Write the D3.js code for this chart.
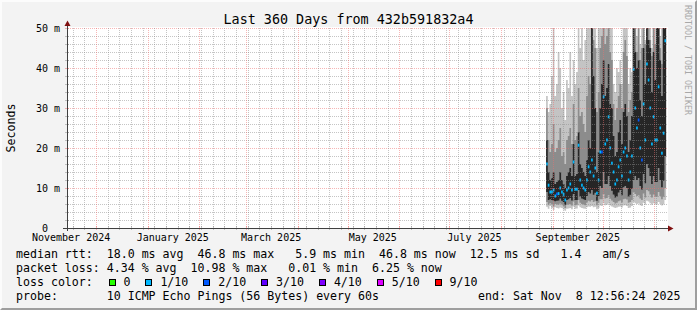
<!DOCTYPE html>
<html lang="en">
<head>
<meta charset="UTF-8">
<title>Smokeping - Last 360 Days</title>
<script src="https://d3js.org/d3.v7.min.js"></script>
<style>
    body { margin: 0; background: #f3f3f3; }
    svg text { font-family: "DejaVu Sans Mono", monospace; fill: #000; white-space: pre; }
</style>
</head>
<body>
<svg id="canvas" width="697" height="310"></svg>
<script>
// one consolidated sample per day, first one on firstDay (UTC)
const firstDay = "2025-08-28T00:00:00Z";
const endStamp = "2025-11-08T12:56:24Z";

// median rtt in ms
const medianRtt = [16, 10.7, 9, 9, 9.5, 8, 8.5, 8.6, 10, 9, 8.4, 7, 9.5, 10, 11, 9.5, 16.5, 9.7, 9.7, 20.7,
    12, 10.7, 10, 9.5, 12, 15.3, 14, 17, 13, 15, 8.7, 12, 19, 19, 32.8, 21, 22, 27.8, 20, 16.2,
    14, 11, 12, 15.3, 17, 13, 19, 20, 18, 12, 14, 18, 39.7, 30, 25, 27, 20, 17, 31, 22,
    41, 37, 30, 21, 27.8, 22, 22, 35.3, 25, 18.7, 23.7, 46.8];
// loss class per day (index into lossLabels)
const lossClass = [1, 1, 1, 1, 1, 1, 2, 1, 1, 1, 1, 1, 1, 1, 1, 1, 1, 1, 1, 1,
    1, 1, 1, 1, 1, 1, 1, 1, 1, 1, 1, 1, 1, 2, 1, 1, 1, 1, 1, 1,
    1, 1, 1, 1, 1, 1, 1, 1, 1, 1, 1, 1, 1, 1, 1, 2, 1, 2, 1, 1,
    1, 1, 1, 1, 1, 1, 1, 1, 1, 1, 1, 1];
// smoke: sorted ping bounds in ms (outer, middle, inner pairs)
const pingMin = [5.3, 4.8, 5.5, 5, 4.5, 5.2, 5, 4.9, 5.1, 5, 4.6, 4.3, 4.8, 4.9, 5, 4.7, 5.4, 4.8, 4.9, 5.6,
    5.2, 5, 4.9, 4.8, 5.2, 5.4, 5.3, 5.5, 5.2, 5.3, 4.7, 5, 5.6, 5.5, 6.2, 5.7, 5.8, 6.1, 5.6, 5.4,
    5.2, 5, 5.1, 5.3, 5.4, 5.1, 5.6, 5.7, 5.5, 5, 5.1, 5.5, 6.5, 6.2, 6, 6.1, 5.7, 5.5, 6.3, 5.8,
    6.8, 6.6, 6.2, 5.8, 6.2, 5.9, 5.9, 6.5, 6, 5.6, 5.9, 7];
const pingLow2 = [6.5, 5.8, 6.2, 6, 5.4, 6, 5.9, 5.8, 6.1, 5.9, 5.5, 5, 5.8, 5.9, 6, 5.6, 6.6, 5.7, 5.8, 7,
    6.3, 6, 5.9, 5.7, 6.4, 6.8, 6.6, 7, 6.5, 6.7, 5.7, 6.3, 7.2, 7.2, 8.5, 7.4, 7.5, 8.2, 7.3, 6.9,
    6.5, 6.1, 6.3, 6.7, 6.9, 6.4, 7.2, 7.3, 7.1, 6.3, 6.5, 7, 9, 8.5, 8, 8.2, 7.4, 7, 8.6, 7.6,
    9.5, 9.2, 8.4, 7.6, 8.4, 7.8, 7.8, 9, 8, 7.2, 7.8, 10];
const pingLow4 = [9, 7, 7.2, 7, 6.8, 6.7, 6.8, 6.9, 7.4, 6.8, 6.5, 5.8, 7, 7.2, 7.5, 6.9, 8.5, 7, 7, 9.5,
    7.9, 7.4, 7.2, 7, 8, 9, 8.6, 9.5, 8.3, 8.8, 6.8, 8, 10.5, 10, 14, 11, 11, 13, 10.5, 9.3,
    8.4, 7.6, 7.9, 8.9, 9.5, 8.2, 10.2, 10.5, 10, 7.8, 8.3, 9.8, 12, 13, 12, 12.5, 10.5, 9.6, 13.5, 11.2,
    16, 15, 13, 11, 13, 11.5, 11.5, 15, 12, 10.2, 11.8, 18];
const pingHigh4 = [22, 14, 12, 12.5, 14, 11, 11.5, 12, 14, 12, 11, 10, 13, 14, 15, 13, 21, 13, 13.5, 24,
    16, 15, 14, 13, 17, 22, 20, 50, 38, 30, 14, 19, 30, 36, 42, 33, 35, 41, 31, 30,
    23, 18, 19, 24, 27, 21, 29, 31, 28, 19, 22, 28, 50, 44, 40, 42, 32, 28, 45, 36,
    50, 47, 45, 34, 44, 37, 50, 50, 42, 33, 50, 50];
const pingHigh2 = [30, 22, 19, 21, 26, 19, 20, 22, 25, 18, 19, 16, 22, 23, 25, 21, 31, 22, 23, 35,
    28, 29, 26, 24, 33, 38, 36, 50, 47, 45, 29, 34, 45, 48, 50, 46, 48, 50, 44, 42,
    31, 27, 30, 33, 36, 30, 44, 47, 43, 29, 32, 34, 50, 50, 44, 50, 42, 45, 50, 46,
    50, 50, 47, 43, 50, 46, 50, 50, 45, 41, 50, 50];
const pingMax = [33, 29, 31, 38, 50, 33, 36, 44, 40, 30, 34, 27, 37, 35, 44, 33, 42, 36, 39, 50,
    45, 50, 42, 47, 50, 50, 50, 50, 50, 50, 45, 50, 50, 50, 50, 50, 50, 50, 50, 50,
    36, 34, 40, 39, 42, 36, 50, 50, 50, 36, 40, 39, 50, 50, 48, 50, 46, 50, 50, 47,
    50, 50, 50, 45, 50, 50, 50, 50, 48, 50, 50, 50];

const lossLabels = ["0", "1/10", "2/10", "3/10", "4/10", "5/10", "9/10"];
const lossColors = ["#26ff00", "#00b8ff", "#0059ff", "#5e00ff", "#7e00ff", "#dd00ff", "#ff0000"];

const titleText = "Last 360 Days from 432b591832a4";
const legendRows = [
    "median rtt:  18.0 ms avg  46.8 ms max   5.9 ms min  46.8 ms now  12.5 ms sd   1.4   am/s",
    "packet loss: 4.34 % avg  10.98 % max   0.01 % min  6.25 % now",
    "loss color:",
    "probe:       10 ICMP Echo Pings (56 Bytes) every 60s"
];
const endLabel = "end: Sat Nov  8 12:56:24 2025";

let svg = d3.select("#canvas");
const W = 697, H = 310;
const plotL = 67, plotR = 667, plotT = 28, plotB = 228;
const charW = 6.983;

let endTime = new Date(endStamp);
let startTime = d3.utcDay.offset(endTime, -360);
let t0 = new Date(firstDay);

let x = d3.scaleUtc().domain([startTime, endTime]).range([plotL, plotR]);
let y = d3.scaleLinear().domain([0, 50]).range([plotB, plotT]);

let rows = medianRtt.map(function (m, k) {
    return {
        t: d3.utcDay.offset(t0, k), med: m, loss: lossClass[k],
        min: pingMin[k], lo2: pingLow2[k], lo4: pingLow4[k],
        hi4: pingHigh4[k], hi2: pingHigh2[k], max: pingMax[k]
    };
});
// closing row so the last step has a width
let stepRows = rows.concat([Object.assign({}, rows[rows.length - 1], {t: d3.utcDay.offset(t0, rows.length)})]);

// background + 3d frame
svg.append("rect").attr("width", W).attr("height", H).attr("fill", "#f3f3f3");
svg.append("path").attr("d", `M0,0H${W}L${W - 2},2H2V${H - 2}L0,${H}Z`).attr("fill", "#fcfcfc");
svg.append("path").attr("d", `M${W},0V${H}H0L2,${H - 2}H${W - 2}V2Z`).attr("fill", "#9e9e9e");

// dotted grid patterns: one pixel on, one off
let minorCol = "rgba(140,140,140,0.5)", majorCol = "rgba(240,110,110,0.5)";
let defs = svg.append("defs");
[["hMinor", 2, 1, minorCol], ["hMajor", 2, 1, majorCol], ["vMinor", 1, 2, minorCol], ["vMajor", 1, 2, majorCol]]
    .forEach(function (p) {
        defs.append("pattern").attr("id", p[0]).attr("patternUnits", "userSpaceOnUse")
            .attr("x", 0).attr("y", 0).attr("width", p[1]).attr("height", p[2])
            .append("rect").attr("width", 1).attr("height", 1).attr("fill", p[3]);
    });

// canvas
svg.append("rect").attr("x", plotL).attr("y", plotT - 1).attr("width", plotR - plotL + 1).attr("height", plotB - plotT + 1)
    .attr("fill", "#fff");

svg.append("clipPath").attr("id", "plotClip").append("rect")
    .attr("x", plotL).attr("y", plotT).attr("width", plotR - plotL).attr("height", plotB - plotT);

let plot = svg.append("g").attr("clip-path", "url(#plotClip)");

// smoke bands, outer to inner
let bands = [["min", "max", "#c4c4c4"], ["lo2", "hi2", "#8c8c8c"], ["lo4", "hi4", "#262626"]];
bands.forEach(function (b) {
    let area = d3.area()
        .curve(d3.curveStepAfter)
        .x(d => x(d.t))
        .y0(d => y(d[b[0]]))
        .y1(d => y(d[b[1]]));
    plot.append("path").datum(stepRows).attr("d", area).attr("fill", b[2]);
});

// median marks coloured by loss
plot.selectAll("rect.median")
    .data(rows)
    .enter()
    .append("rect")
    .attr("class", "median")
    .attr("x", d => x(d.t))
    .attr("width", d => x(d3.utcDay.offset(d.t, 1)) - x(d.t))
    .attr("y", d => y(d.med) - 1.5)
    .attr("height", 3)
    .attr("fill", d => lossColors[d.loss]);

// grid (drawn over the data like rrdtool does)
let grid = svg.append("g").attr("shape-rendering", "crispEdges");

y.ticks(25).forEach(function (v) {
    let major = v % 10 === 0;
    let yy = Math.round(y(v));
    grid.append("rect")
        .attr("x", plotL).attr("y", yy).attr("width", plotR - plotL).attr("height", 1)
        .attr("fill", major ? "url(#hMajor)" : "url(#hMinor)");
    grid.append("rect")
        .attr("x", plotL - 2).attr("y", yy).attr("width", 4).attr("height", 1)
        .attr("fill", major ? majorCol : minorCol);
});

let months = d3.utcMonth.range(startTime, endTime);
let weeks = d3.utcSunday.range(startTime, endTime).filter(w => !months.some(m => +m === +w));
[[weeks, "url(#vMinor)", minorCol], [months, "url(#vMajor)", majorCol]].forEach(function (g) {
    g[0].forEach(function (t) {
        let xx = Math.round(x(t));
        grid.append("rect")
            .attr("x", xx).attr("y", plotT).attr("width", 1).attr("height", plotB - plotT)
            .attr("fill", g[1]);
        grid.append("rect")
            .attr("x", xx).attr("y", plotB - 2).attr("width", 1).attr("height", 4)
            .attr("fill", g[2]);
    });
});

// axes with arrows
svg.append("line").attr("x1", plotL - 4).attr("x2", plotR + 3).attr("y1", plotB + 0.5).attr("y2", plotB + 0.5)
    .attr("stroke", "#404040");
svg.append("line").attr("x1", plotL + 0.5).attr("x2", plotL + 0.5).attr("y1", plotB + 3).attr("y2", plotT - 5)
    .attr("stroke", "#404040");
svg.append("path").attr("d", `M${plotR + 1},${plotB - 2.5}L${plotR + 6.5},${plotB + 0.5}L${plotR + 1},${plotB + 3.5}Z`)
    .attr("fill", "#801010");
svg.append("path").attr("d", `M${plotL - 2.5},${plotT - 2}L${plotL + 0.5},${plotT - 7.5}L${plotL + 3.5},${plotT - 2}Z`)
    .attr("fill", "#801010");

// y labels
y.ticks(5).forEach(function (v) {
    svg.append("text")
        .attr("x", 60).attr("y", y(v) + 3.7)
        .attr("text-anchor", "end")
        .style("font-size", "10px")
        .text(v === 0 ? "0  " : v + " m");
});

// x labels: every second month, centred half a month after the tick
let labelFmt = d3.utcFormat("%B %Y");
d3.utcMonth.every(2).range(d3.utcMonth.offset(startTime, -1), endTime).forEach(function (t) {
    let c = d3.utcDay.offset(t, 15);
    if (c < startTime || c > endTime) return;
    svg.append("text")
        .attr("x", x(c)).attr("y", 241)
        .attr("text-anchor", "middle")
        .style("font-size", "10px")
        .text(labelFmt(t));
});

// title, vertical label, watermark
svg.append("text").attr("x", W / 2).attr("y", 24).attr("text-anchor", "middle")
    .style("font-size", "13.4px").text(titleText);
svg.append("text").attr("transform", `translate(14.5,${(plotT + plotB) / 2}) rotate(-90)`)
    .attr("text-anchor", "middle").style("font-size", "11.6px").text("Seconds");
svg.append("text").attr("transform", "translate(685,5) rotate(90)")
    .style("font-size", "8.3px").style("fill", "#a8a8a8").text("RRDTOOL / TOBI OETIKER");

// legend
legendRows.forEach(function (s, r) {
    svg.append("text").attr("x", 16).attr("y", 258 + r * 14)
        .style("font-size", "11.6px").text(s);
});
svg.append("text").attr("x", 478).attr("y", 300).style("font-size", "11.6px").text(endLabel);

let bx = 109;
lossLabels.forEach(function (lab, k) {
    svg.append("rect").attr("x", bx).attr("y", 279).attr("width", 6).attr("height", 6)
        .attr("fill", lossColors[k]).attr("stroke", "#000").attr("stroke-width", 1)
        .attr("shape-rendering", "crispEdges");
    svg.append("text").attr("x", bx + 14.5).attr("y", 286).style("font-size", "11.6px").text(lab);
    bx = bx + 14.5 + lab.length * charW + 15.4;
});
</script>
</body>
</html>
